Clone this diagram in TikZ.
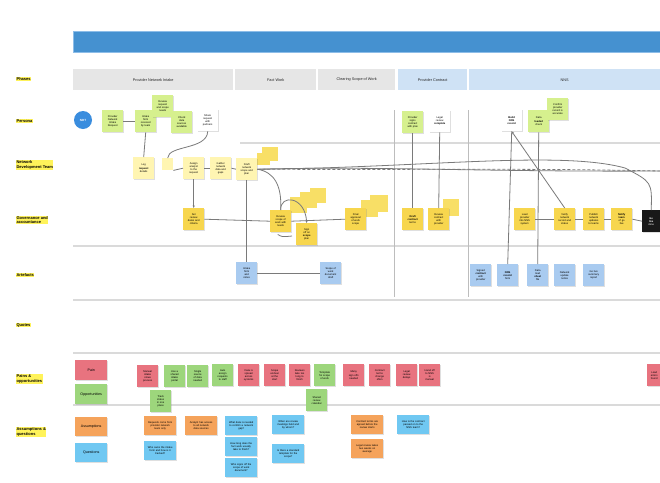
\documentclass[tikz,border=0pt]{standalone}
\usepackage{fontspec}
\setmainfont{Liberation Sans}
\usetikzlibrary{shadows,arrows.meta}
\definecolor{barblue}{HTML}{4591D0}
\definecolor{barline}{HTML}{8DBDE8}
\definecolor{phgray}{HTML}{E6E6E6}
\definecolor{phblue}{HTML}{CFE2F5}
\definecolor{pgreen}{HTML}{D6F08E}
\definecolor{lyel}{HTML}{FFF5B2}
\definecolor{syel}{HTML}{F7D64E}
\definecolor{stk}{HTML}{F8DF66}
\definecolor{ablue}{HTML}{A9CBF0}
\definecolor{pred}{HTML}{E8737F}
\definecolor{ogreen}{HTML}{9DD67C}
\definecolor{aorange}{HTML}{F5A35B}
\definecolor{qblue}{HTML}{70C8F2}
\definecolor{hl}{HTML}{FFF35A}
\definecolor{lanegray}{HTML}{DADADA}
\definecolor{vgray}{HTML}{BDBDBD}
\definecolor{cgray}{HTML}{7A7A7A}
\definecolor{circ}{HTML}{3A8DDE}
\tikzset{
  note/.style={anchor=north west, minimum width=21pt, minimum height=22pt, inner sep=0.5pt,
    text width=19pt, align=center, font=\fontsize{2.6}{3.1}\selectfont, text=black,
    drop shadow={shadow xshift=0.4pt, shadow yshift=-0.7pt, opacity=0.25}},
  widenote/.style={note, minimum width=32pt, minimum height=19pt, text width=30pt},
  pg/.style={note, fill=pgreen},
  wt/.style={note, fill=white},
  ly/.style={note, fill=lyel},
  sy/.style={note, fill=syel},
  ab/.style={note, fill=ablue},
  pr/.style={note, fill=pred},
  og/.style={note, fill=ogreen},
  ao/.style={widenote, fill=aorange},
  qb/.style={widenote, fill=qblue},
  stack/.style={fill=stk, draw=none},
  conn/.style={draw=cgray, line width=0.8pt},
  lane/.style={draw=lanegray, line width=1.2pt},
  vline/.style={draw=vgray, line width=0.9pt},
  rowlbl/.style={anchor=west, fill=hl, inner sep=0.4pt, align=left, font=\fontsize{4}{4.6}\selectfont\bfseries},
  phase/.style={anchor=north west, minimum height=21pt, inner sep=0pt, font=\fontsize{3.8}{4.2}\selectfont, text=black!85},
  >={Stealth[length=2.6pt,width=2.2pt]}
}
\begin{document}
\begin{tikzpicture}[x=1pt,y=-1pt]
\useasboundingbox[fill=white] (0,0) rectangle (660,482);
% title bar
\node[anchor=north west, fill=barblue, draw=barline, line width=0.5pt, minimum width=588pt, minimum height=21pt, inner sep=0pt] (bar) at (73,31) {};
% phases
\node[phase, fill=phgray, minimum width=160pt] (ph1) at (73,69) {Provider Network Intake};
\node[phase, fill=phgray, minimum width=81pt] (ph2) at (235,69) {Fact Work};
\node[phase, fill=phgray, minimum width=77pt] (ph3) at (318,69) {Clearing Scope of Work};
\node[phase, fill=phblue, minimum width=69pt] (ph4) at (398,69) {Provider Contract};
\node[phase, fill=phblue, minimum width=191pt] (ph5) at (469,69) {NNS};
% row labels
\node[rowlbl] (r1) at (16,79) {Phases};
\node[rowlbl] (r2) at (16,121) {Persona};
\node[rowlbl] (r3) at (16,165) {Network\\Development Team};
\node[rowlbl] (r4) at (16,220) {Governance and\\accountance};
\node[rowlbl] (r5) at (16,275) {Artefacts};
\node[rowlbl] (r6) at (16,325) {Quotes};
\node[rowlbl] (r7) at (16,379) {Pains \&\\opportunities};
\node[rowlbl] (r8) at (16,432) {Assumptions \&\\questions};
% lanes
\draw[lane] (240,143) -- (660,143);
\draw[lane] (73,246) -- (660,246);
\draw[lane] (73,300) -- (660,300);
\draw[lane] (73,353) -- (660,353);
\draw[lane] (73,405) -- (660,405);
\draw[vline] (394,110) -- (394,297);
\draw[vline] (468,110) -- (468,297);
% persona row
\node[circle, fill=circ, minimum size=18pt, inner sep=0pt, text=white, font=\fontsize{3}{3}\selectfont\bfseries] (pc) at (83,120) {NDT};
\node[pg] (p1) at (102,110) {Provider\\Network\\Intake\\Request};
\node[pg] (p2) at (135,110) {Intake\\form\\received\\by team};
\node[pg] (p3) at (152,95) {Review\\request\\and scope\\needs};
\node[pg] (p4) at (171,111) {Check\\data\\sources\\available};
\node[wt] (p5) at (197,109) {Share\\request\\with\\partners};
% network development row
\node[ly] (d1) at (133,157) {Log\\\textbf{request}\\details};
\node[fill=lyel, minimum width=11pt, minimum height=12pt, anchor=north west, inner sep=0pt] (sq1) at (162,158) {};
\node[ly] (d2) at (183,157) {Assign\\analyst\\to the\\request};
\node[ly] (d3) at (210,157) {Gather\\network\\data and\\gaps};
\fill[stack] (262,147) rectangle (278,161);
\fill[stack] (257,153) rectangle (270,165);
\node[ly] (d4) at (236,158) {Draft\\network\\scope and\\plan};
% governance row
\node[sy] (g1) at (183,208) {Set\\review\\dates and\\criteria};
\fill[stack] (310,188) rectangle (326,203);
\fill[stack] (300,192) rectangle (317,208);
\fill[stack] (290,197) rectangle (307,213);
\node[sy] (g2) at (270,210) {Review\\scope of\\work with\\leads};
\node[sy] (g3) at (296,223) {Sign\\off on\\\textbf{scope}\\plan};
\fill[stack] (370,195) rectangle (388,212);
\fill[stack] (361,200) rectangle (378,217);
\node[sy] (g4) at (345,208) {Final\\approval\\of work\\scope};
\node[sy] (g5) at (402,208) {\textbf{Draft}\\\textbf{contract}\\terms};
\fill[stack] (443,199) rectangle (459,216);
\node[sy] (g6) at (428,208) {Review\\contract\\with\\provider};
\node[sy] (g7) at (514,208) {Load\\provider\\into NNS\\system};
\node[sy] (g8) at (554,208) {Verify\\network\\record and\\status};
\node[sy] (g9) at (583,208) {Publish\\network\\updates\\to teams};
\node[sy] (g10) at (611,208) {\textbf{Notify}\\\textbf{team}\\of go\\live};
\node[note, fill=black!90, text=white, minimum width=18pt, text width=17pt] (bk) at (642,210) {\textbf{Go}\\\textbf{live}\\done};
% persona / contract
\node[pg] (c1) at (402,111) {Provider\\signs\\contract\\with plan};
\node[wt] (c2) at (429,110) {Legal\\review\\\textbf{complete}};
\node[wt] (n1) at (501,109) {\textbf{Build}\\\textbf{NNS}\\\textbf{record}};
\node[pg] (n2) at (528,110) {Data\\\textbf{loaded}\\check};
\node[pg] (n3) at (547,98) {Confirm\\provider\\record is\\accurate};
% artefacts
\node[ab] (a1) at (236,262) {Intake\\form\\and\\notes};
\node[ab] (a2) at (320,262) {Scope of\\work\\document\\draft};
\node[ab] (a3) at (470,264) {Signed\\\textbf{contract}\\with\\provider};
\node[ab] (a4) at (497,264) {\textbf{NNS}\\\textbf{record}\\form};
\node[ab] (a5) at (527,264) {Data\\load\\\textbf{sheet}\\file};
\node[ab] (a6) at (554,264) {Network\\update\\notice};
\node[ab] (a7) at (583,264) {Go live\\summary\\report};
% pains & opportunities
\node[note, fill=pred, minimum width=32pt, minimum height=20pt, text width=30pt, font=\fontsize{3.6}{4}\selectfont] (lp) at (75,360) {Pain};
\node[note, fill=ogreen, minimum width=32pt, minimum height=20pt, text width=30pt, font=\fontsize{3.6}{4}\selectfont] (lo) at (75,384) {Opportunities};
\node[pr] (o1) at (137,365) {Manual\\intake\\slows\\process};
\node[og] (o2) at (164,365) {Use a\\shared\\intake\\portal};
\node[og] (o3) at (187,365) {Single\\source\\of data\\needed};
\node[og] (o4) at (212,364) {Auto\\assign\\requests\\to staff};
\node[og] (o5) at (150,390) {Track\\status\\in one\\place};
\node[pr] (o6) at (238,364) {Data is\\spread\\across\\systems};
\node[pr] (o7) at (264,364) {Scope\\unclear\\at the\\start};
\node[pr] (o8) at (289,364) {Reviews\\take too\\long to\\finish};
\node[og] (o9) at (314,364) {Template\\for scope\\of work};
\node[og] (o10) at (306,389) {Shared\\review\\calendar};
\node[pr] (o11) at (343,364) {Many\\sign offs\\needed};
\node[pr] (o12) at (369,364) {Contract\\terms\\change\\often};
\node[pr] (o13) at (396,364) {Legal\\review\\delays};
\node[pr] (o14) at (419,364) {Hand off\\to NNS\\is\\manual};
\node[pr, minimum width=14pt, text width=13pt] (o15) at (647,364) {Load\\errors\\found};
% assumptions & questions
\node[ao, font=\fontsize{3.6}{4}\selectfont] (la) at (75,417) {Assumptions};
\node[qb, font=\fontsize{3.6}{4}\selectfont] (lq) at (75,443) {Questions};
\node[ao] (q1) at (144,416) {Requests come from\\provider network\\team only};
\node[qb] (q2) at (144,441) {Who owns the intake\\form and how is it\\tracked?};
\node[ao] (q3) at (185,416) {Analyst has access\\to all network\\data sources};
\node[qb] (q4) at (225,416) {What data is needed\\to confirm a network\\gap?};
\node[qb] (q5) at (225,437) {How long does the\\fact work usually\\take to finish?};
\node[qb] (q6) at (225,458) {Who signs off the\\scope of work\\document?};
\node[qb] (q7) at (272,415) {When are review\\meetings held and\\by whom?};
\node[qb] (q8) at (272,444) {Is there a standard\\template for the\\scope?};
\node[ao] (q9) at (351,415) {Contract terms are\\agreed before the\\review starts};
\node[ao] (q10) at (351,439) {Legal review takes\\two weeks on\\average};
\node[qb] (q11) at (397,415) {How is the contract\\passed on to the\\NNS team?};
% connectors
\coordinate (edge) at (660,171);
\draw[conn] (p1.east) -- (p2.west);
\draw[conn] (p2.south) -- (d1.north);
\draw[conn] (p5.south) .. controls (207,150) and (168,145) .. (sq1.north);
\draw[conn] (sq1.south east) -- (d2.west);
\draw[conn] (d2.east) -- (d3.west);
\draw[conn] (d3.east) -- (d4.west);
\draw[conn,->] (d2.south) -- (g1.north);
\draw[conn] (d4.south) -- (a1.north);
\draw[conn] (g1.east) -- (g2.west);
\draw[conn] (g2.east) -- (g4.west);
\draw[conn] (a1.east) -- (a2.west);
\draw[conn] (d4.east) .. controls (274,172) and (282,185) .. (g2.north);
\draw[conn,->] (g2.north) .. controls (280,194) and (305,196) .. (g3.north);
\draw[conn] (g2.south) ++(-3,2) .. controls (282,237) .. (292,236);
\draw[conn] (d4.east) .. controls (420,168) and (560,150) .. (625,168) .. controls (652,182) .. (bk.north);
\draw[conn, densely dashed] (d4.east) .. controls (420,170) and (520,168) .. (edge);
\draw[conn] (d4.east) .. controls (380,166) and (480,172) .. (edge);
\draw[conn] (c1.south) -- (g5.north);
\draw[conn] (c2.south) -- (g6.north);
\draw[conn] (n1.south) -- (a4.north);
\draw[conn] (n2.south) -- (a5.north);
\draw[conn,->] (g8.north) -- (n1.south);
\draw[conn] (g7.east) -- (g8.west);
\draw[conn] (g8.east) -- (g9.west);
\draw[conn] (g9.east) -- (g10.west);
\draw[conn] (g10.east) -- (bk.west);
\end{tikzpicture}
\end{document}
